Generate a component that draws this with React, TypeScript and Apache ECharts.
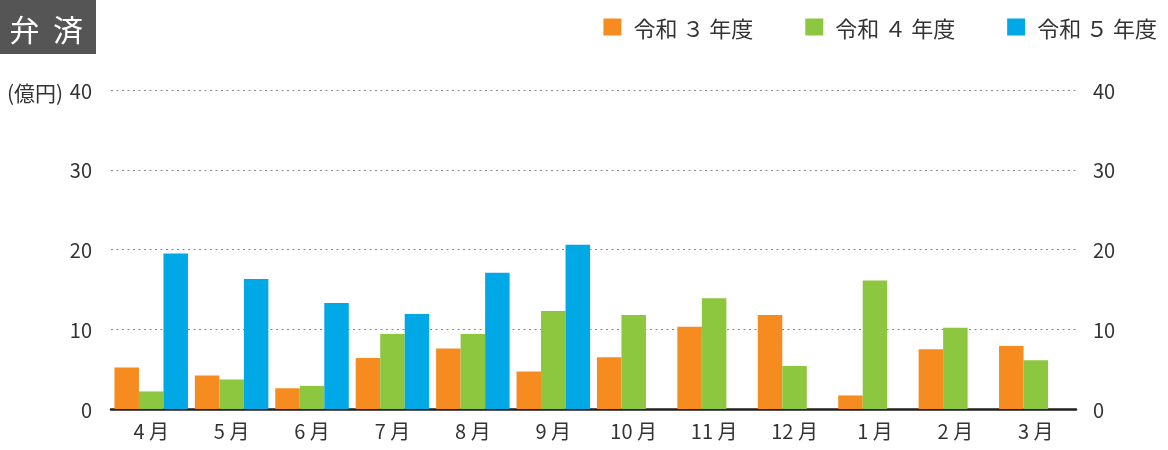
import React, { useEffect, useRef } from "react";
import * as echarts from "echarts";

const categories = ["4月", "5月", "6月", "7月", "8月", "9月", "10月", "11月", "12月", "1月", "2月", "3月"];
const seriesNames = ["令和 ３ 年度", "令和 ４ 年度", "令和 ５ 年度"];
const r3 = [5.2, 4.2, 2.6, 6.4, 7.6, 4.7, 6.5, 10.3, 11.8, 1.7, 7.5, 7.9];
const r4 = [2.2, 3.7, 2.9, 9.4, 9.4, 12.3, 11.8, 13.9, 5.4, 16.1, 10.2, 6.1];
const r5 = [19.5, 16.3, 13.3, 11.9, 17.1, 20.6, null, null, null, null, null, null];
const colors = ["#F68B1F", "#8DC63F", "#00A9E6"];
const yMin = 0;
const yMax = 40;
const yInterval = 10;
const titleText = "弁  済";
const unitText = "(億円)";

const FONT = '"Noto Sans CJK JP", "Noto Sans", sans-serif';

export default function App() {
  const ref = useRef<HTMLDivElement>(null);
  useEffect(() => {
    if (!ref.current) return;
    const chart = echarts.init(ref.current, null, { renderer: "svg" });
    const data = [r3, r4, r5];
    chart.setOption({
      animation: false,
      textStyle: { fontFamily: FONT },
      color: colors,
      legend: {
        right: 11,
        top: 16,
        itemWidth: 18,
        itemHeight: 17,
        itemGap: 52,
        padding: 0,
        icon: "rect",
        textStyle: { fontSize: 22, color: "#333", fontFamily: FONT, padding: [0, 0, 0, 7] },
        data: seriesNames,
      },
      grid: { left: 111, right: 92, top: 90, bottom: 41, containLabel: false },
      xAxis: {
        type: "category",
        data: categories,
        axisLine: { lineStyle: { color: "#231f20", width: 2.5 } },
        axisTick: { show: false },
        axisLabel: {
          fontSize: 20,
          color: "#333",
          margin: 11,
          formatter: (v: string) => v.replace("月", " 月"),
        },
      },
      yAxis: [
        {
          type: "value",
          min: yMin,
          max: yMax,
          interval: yInterval,
          axisLine: { show: false },
          axisTick: { show: false },
          axisLabel: { fontSize: 20, color: "#333", margin: 19, padding: [6, 0, 0, 0] },
          splitLine: { lineStyle: { color: "#888", type: [2, 3.5], width: 1 } },
        },
        {
          type: "value",
          position: "right",
          min: yMin,
          max: yMax,
          interval: yInterval,
          axisLine: { show: false },
          axisTick: { show: false },
          axisLabel: { fontSize: 20, color: "#333", margin: 17 },
          splitLine: { show: false },
        },
      ],
      series: seriesNames.map((name, i) => ({
        name,
        type: "bar",
        data: data[i],
        barGap: "0%",
        barCategoryGap: "8.6%",
        itemStyle: { color: colors[i] },
      })),
      graphic: [
        {
          type: "rect",
          left: 0,
          top: 0,
          shape: { width: 96, height: 54 },
          style: { fill: "#555555" },
        },
        {
          type: "text",
          x: 83,
          y: 28,
          style: {
            text: titleText,
            fill: "#ffffff",
            fontSize: 30,
            fontFamily: FONT,
            align: "right",
            verticalAlign: "middle",
          },
        },
        {
          type: "text",
          x: 7,
          y: 92,
          style: {
            text: unitText,
            fill: "#333",
            fontSize: 21,
            fontFamily: FONT,
            align: "left",
            verticalAlign: "middle",
          },
        },
      ],
    });
    return () => chart.dispose();
  }, []);
  return (
    <div
      ref={ref}
      style={{ position: "fixed", left: 0, top: 0, width: 1168, height: 450 }}
    />
  );
}
